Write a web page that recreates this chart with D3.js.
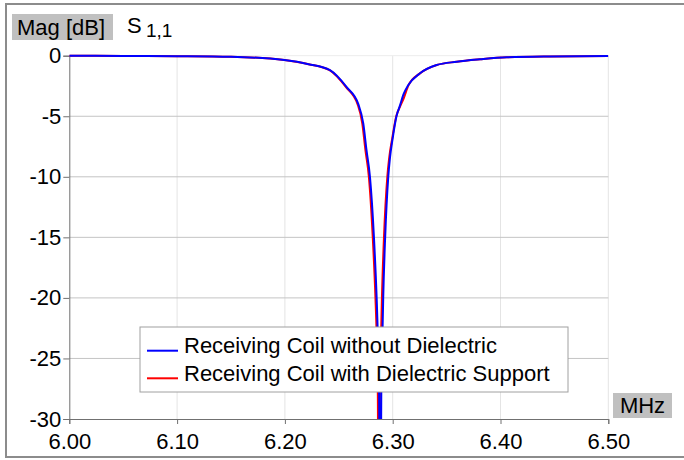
<!DOCTYPE html>
<html>
<head>
<meta charset="utf-8">
<script src="https://cdn.jsdelivr.net/npm/d3@7"></script>
<style>
  html, body { margin: 0; padding: 0; background: #fff; }
  svg { display: block; font-family: "Liberation Sans", Arial, sans-serif; }
</style>
</head>
<body>
<svg id="chart" width="684" height="460"></svg>
<script>
// S11 magnitude sweep of the receiving coil, with and without dielectric support
const xTicks = [6.00, 6.10, 6.20, 6.30, 6.40, 6.50];
const yTicks = [0, -5, -10, -15, -20, -25, -30];

const freqNoDielectric = [6.000, 6.050, 6.100, 6.150, 6.1995, 6.222, 6.2418, 6.2573, 6.2681, 6.2727,
  6.2757, 6.2789, 6.2826, 6.2851, 6.2862, 6.2874, 6.2884, 6.2894, 6.2905, 6.2912,
  6.2930, 6.2959, 6.2975, 6.3000, 6.3035, 6.3068, 6.3100, 6.3145, 6.3253, 6.3408,
  6.3594, 6.381, 6.4058, 6.446, 6.500];
const magNoDielectric = [-0.01, -0.02, -0.04, -0.09, -0.36, -0.7, -1.2, -2.6, -4.0, -5.6,
  -7.8, -10.0, -15.0, -20.0, -23.0, -28, -45, -28, -23.0, -20.0,
  -15.0, -10.0, -8.4, -6.8, -5.0, -4.1, -3.2, -2.42, -1.45, -0.77,
  -0.5, -0.3, -0.13, -0.06, -0.03];

const freqDielectric = [6.000, 6.050, 6.100, 6.150, 6.1995, 6.222, 6.2414, 6.2567, 6.2674, 6.2718,
  6.2747, 6.2779, 6.2815, 6.2840, 6.2851, 6.2862, 6.2871, 6.2881, 6.2892, 6.2900,
  6.2919, 6.2950, 6.2968, 6.2996, 6.3033, 6.3068, 6.3103, 6.3146, 6.3253, 6.3408,
  6.3594, 6.381, 6.4058, 6.446, 6.500];
const magDielectric = [-0.01, -0.02, -0.04, -0.09, -0.36, -0.7, -1.2, -2.6, -4.0, -5.6,
  -7.8, -10.0, -15.0, -20.0, -23.0, -28, -45, -28, -23.0, -20.0,
  -15.0, -10.0, -8.4, -6.8, -5.0, -4.2, -3.5, -2.45, -1.46, -0.77,
  -0.5, -0.3, -0.13, -0.06, -0.03];

const seriesNames = ["Receiving Coil without Dielectric", "Receiving Coil with Dielectric Support"];
const seriesColors = ["#0000ff", "#ff0000"];

const svg = d3.select("#chart");
const plotLeft = 69.3, plotRight = 608.3, plotTop = 55.7, plotBottom = 419;

const x = d3.scaleLinear().domain([6.0, 6.5]).range([plotLeft, plotRight]);
const y = d3.scaleLinear().domain([-30, 0]).range([plotBottom, plotTop]);

// outer frame
svg.append("rect").attr("x", 6).attr("y", 4).attr("width", 700).attr("height", 453)
  .attr("fill", "none").attr("stroke", "#8c8c8c").attr("stroke-width", 2);

// grid
const grid = svg.append("g");
grid.selectAll("line.v").data(xTicks.slice(1)).join("line")
  .attr("x1", d => x(d)).attr("x2", d => x(d))
  .attr("y1", plotTop).attr("y2", plotBottom)
  .attr("stroke", "#e4e4e4").attr("stroke-width", 1);
grid.selectAll("line.h").data(yTicks.slice(1, -1)).join("line")
  .attr("x1", plotLeft).attr("x2", plotRight)
  .attr("y1", d => y(d)).attr("y2", d => y(d))
  .attr("stroke", "#c4c4c4").attr("stroke-width", 1);
grid.append("line").attr("x1", plotLeft).attr("x2", plotRight)
  .attr("y1", y(0)).attr("y2", y(0))
  .attr("stroke", "#ececec").attr("stroke-width", 1);

// axes
const yAxis = svg.append("g").attr("transform", `translate(${plotLeft},0)`)
  .call(d3.axisLeft(y).tickValues(yTicks).tickFormat(d => String(d)).tickSizeOuter(0).tickSize(6).tickPadding(2));
const xAxis = svg.append("g").attr("transform", `translate(0,${plotBottom})`)
  .call(d3.axisBottom(x).tickValues(xTicks).tickFormat(d => d.toFixed(2)).tickSizeOuter(0).tickSize(5).tickPadding(9));
[yAxis, xAxis].forEach(a => {
  a.select(".domain").attr("stroke", "#707070");
  a.selectAll(".tick line").attr("stroke", "#707070");
  a.selectAll(".tick text").attr("font-size", 22).attr("fill", "#000")
    .attr("font-family", "'Liberation Sans', Arial, sans-serif");
});

// traces
svg.append("clipPath").attr("id", "plotClip").append("rect")
  .attr("x", plotLeft).attr("y", plotTop - 4).attr("width", plotRight - plotLeft).attr("height", plotBottom - plotTop + 4);

const line = d3.line().x(d => x(d[0])).y(d => y(d[1])).curve(d3.curveMonotoneX);
const traces = [
  { f: freqDielectric, m: magDielectric, c: seriesColors[1] },
  { f: freqNoDielectric, m: magNoDielectric, c: seriesColors[0] }
];
svg.append("g").attr("clip-path", "url(#plotClip)")
  .selectAll("path").data(traces).join("path")
  .attr("d", t => line(t.f.map((f, i) => [f, t.m[i]])))
  .attr("fill", "none").attr("stroke", t => t.c).attr("stroke-width", 2)
  .attr("stroke-linejoin", "round");

// legend
const lg = svg.append("g").attr("transform", "translate(140,327)");
lg.append("rect").attr("width", 428).attr("height", 65)
  .attr("fill", "#fff").attr("stroke", "#a0a0a0").attr("stroke-width", 1);
seriesNames.forEach((name, i) => {
  const row = lg.append("g").attr("transform", `translate(0,${23.7 + i * 27.6})`);
  row.append("line").attr("x1", 7).attr("x2", 38).attr("y1", 0).attr("y2", 0)
    .attr("stroke", seriesColors[i]).attr("stroke-width", 2);
  row.append("text").attr("x", 44).attr("y", 2.6).attr("font-size", 22).text(name);
});

// axis captions
svg.append("rect").attr("x", 12).attr("y", 14).attr("width", 101).attr("height", 26).attr("fill", "#c0c0c0");
svg.append("text").attr("x", 17).attr("y", 35).attr("font-size", 22).text("Mag [dB]");
const s = svg.append("text").attr("x", 127).attr("y", 33).attr("font-size", 22);
s.append("tspan").text("S");
s.append("tspan").attr("x", 146).attr("y", 37).attr("font-size", 19).text("1,1");

svg.append("rect").attr("x", 613).attr("y", 393).attr("width", 59).attr("height", 25).attr("fill", "#c0c0c0");
svg.append("text").attr("x", 642.5).attr("y", 413).attr("text-anchor", "middle").attr("font-size", 22).text("MHz");
</script>
</body>
</html>
